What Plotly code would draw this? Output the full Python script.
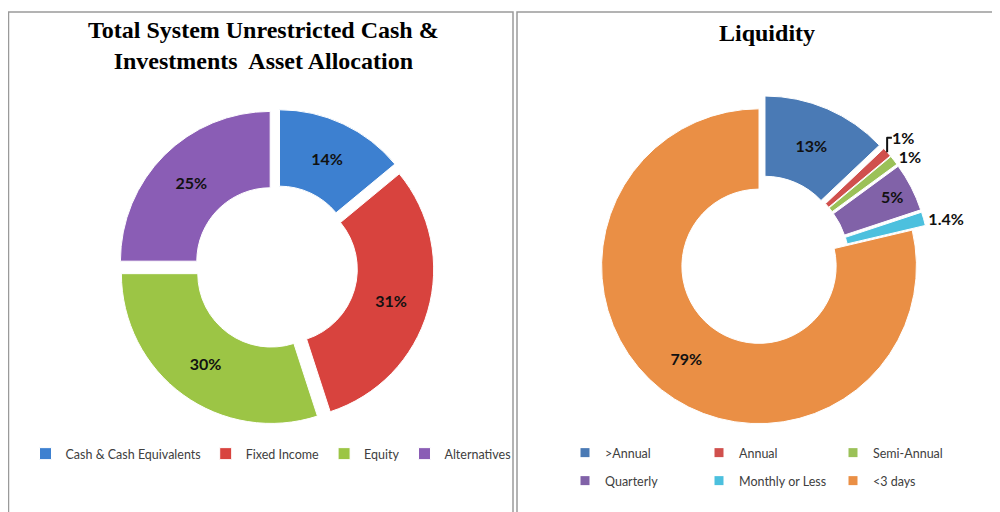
import plotly.graph_objects as go

# left chart: asset allocation
alloc_labels = ["Cash & Cash Equivalents", "Fixed Income", "Equity", "Alternatives"]
alloc_values = [14, 31, 30, 25]
alloc_colors = ["#3D80D0", "#D8433E", "#9CC545", "#8A5DB5"]

# right chart: liquidity
liq_labels = [">Annual", "Annual", "Semi-Annual", "Quarterly", "Monthly or Less", "<3 days"]
liq_values = [13, 1, 1, 5, 1.4, 79]
liq_colors = ["#4A7AB5", "#D0504D", "#9BC158", "#8162A8", "#4CC0DE", "#EA8F45"]
liq_textpos = ["inside", "outside", "outside", "inside", "outside", "inside"]

# the page puts the figure 8px in from the window corner
W, H, OFF = 992, 504, 8


def fx(px):
    return (px - OFF) / W


def fy(py):
    return 1 - (py - OFF) / H


label_font = dict(family="Lato", size=16, color="#111111", weight="bold")
legend_font = dict(family="Lato", size=12.5, color="#404040")
title_font = dict(family="Liberation Serif", size=24, color="#000000", weight="bold")

fig = go.Figure()

fig.add_trace(go.Pie(
    labels=alloc_labels,
    values=alloc_values,
    sort=False,
    direction="clockwise",
    rotation=0,
    hole=0.49,
    pull=0.055,
    marker=dict(colors=alloc_colors, line=dict(color="white", width=1)),
    texttemplate="%{value}%",
    textposition="inside",
    insidetextorientation="horizontal",
    textfont=label_font,
    domain=dict(x=[fx(276 - 158), fx(276 + 158)], y=[fy(267 + 158), fy(267 - 158)]),
    legend="legend",
    showlegend=True,
))

fig.add_trace(go.Pie(
    labels=liq_labels,
    values=liq_values,
    sort=False,
    direction="clockwise",
    rotation=0,
    hole=0.49,
    pull=[0.08, 0.08, 0.08, 0.08, 0.08, 0.01],
    marker=dict(colors=liq_colors, line=dict(color="white", width=1)),
    texttemplate="%{value}%",
    textposition=liq_textpos,
    insidetextorientation="horizontal",
    textfont=label_font,
    outsidetextfont=label_font,
    domain=dict(x=[fx(760 - 170), fx(760 + 170)], y=[fy(265 + 170), fy(265 - 170)]),
    showlegend=False,
))

# legend entries for the liquidity chart, split over two rows
for i, (name, col) in enumerate(zip(liq_labels, liq_colors)):
    fig.add_trace(go.Scatter(
        x=[None], y=[None],
        mode="markers",
        name=name,
        marker=dict(symbol="square", size=9, color=col),
        legend="legend2" if i < 3 else "legend3",
        showlegend=True,
        hoverinfo="skip",
    ))

# panel frames
fig.add_shape(type="rect", xref="paper", yref="paper",
              x0=fx(8.5), x1=fx(513), y0=fy(530), y1=fy(12),
              line=dict(color="#9A9A9A", width=1.5))
fig.add_shape(type="rect", xref="paper", yref="paper",
              x0=fx(517), x1=fx(1010), y0=fy(530), y1=fy(12),
              line=dict(color="#9A9A9A", width=1.5))

fig.add_annotation(text="Total System Unrestricted Cash &<br>Investments  Asset Allocation",
                   x=fx(263), y=fy(15), xref="paper", yref="paper",
                   xanchor="center", yanchor="top", showarrow=False,
                   font=title_font)
fig.add_annotation(text="Liquidity",
                   x=fx(767), y=fy(18), xref="paper", yref="paper",
                   xanchor="center", yanchor="top", showarrow=False,
                   font=title_font)

leg_common = dict(orientation="h", font=legend_font, bgcolor="rgba(0,0,0,0)",
                  itemwidth=30, yanchor="middle")

fig.update_layout(
    width=W, height=H,
    margin=dict(l=0, r=0, t=0, b=0),
    paper_bgcolor="white",
    plot_bgcolor="white",
    xaxis=dict(visible=False),
    yaxis=dict(visible=False),
    legend=dict(x=fx(271), y=fy(454), xanchor="center", **leg_common),
    legend2=dict(x=fx(565), y=fy(453), xanchor="left", entrywidth=89, **leg_common),
    legend3=dict(x=fx(565), y=fy(481), xanchor="left", entrywidth=89, **leg_common),
)

fig.write_html("out.html")
